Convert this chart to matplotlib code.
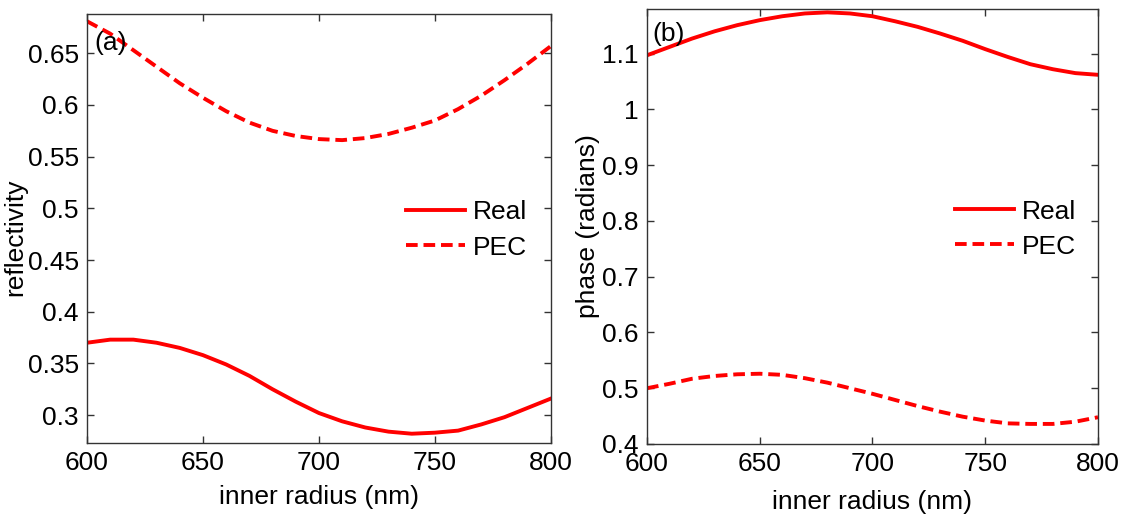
import matplotlib.pyplot as plt
from matplotlib.ticker import FuncFormatter

plt.rcParams['font.family'] = ['Liberation Sans', 'DejaVu Sans']

# inner radius (nm)
radius = [600, 610, 620, 630, 640, 650, 660, 670, 680, 690, 700,
          710, 720, 730, 740, 750, 760, 770, 780, 790, 800]

# (a) reflectivity
refl_real = [0.370, 0.373, 0.373, 0.370, 0.365, 0.358, 0.349, 0.338, 0.325, 0.313, 0.302,
             0.294, 0.288, 0.284, 0.282, 0.283, 0.285, 0.291, 0.298, 0.307, 0.316]
refl_pec = [0.681, 0.669, 0.653, 0.637, 0.621, 0.607, 0.594, 0.583, 0.575, 0.570, 0.567,
            0.566, 0.568, 0.572, 0.578, 0.585, 0.596, 0.609, 0.624, 0.640, 0.657]

# (b) phase (radians)
phase_real = [1.097, 1.112, 1.127, 1.140, 1.151, 1.160, 1.167, 1.172, 1.174, 1.172, 1.167,
              1.158, 1.148, 1.136, 1.123, 1.108, 1.094, 1.081, 1.072, 1.065, 1.062]
phase_pec = [0.500, 0.508, 0.517, 0.522, 0.525, 0.526, 0.524, 0.518, 0.510, 0.500, 0.490,
             0.479, 0.468, 0.458, 0.449, 0.442, 0.437, 0.436, 0.436, 0.440, 0.448]

fs = 19
red = '#ff0000'

fig = plt.figure(figsize=(11.25, 5.17), dpi=100)
ax1 = fig.add_axes([0.0773, 0.1431, 0.4124, 0.8298])
ax2 = fig.add_axes([0.5751, 0.1412, 0.4009, 0.8414])


def style(ax):
    for s in ax.spines.values():
        s.set_color('#333333')
        s.set_linewidth(1.0)
    ax.tick_params(direction='in', top=True, right=True, length=5, width=1,
                   labelsize=fs, pad=6, color='#333333')
    ax.set_xlim(600, 800)
    ax.set_xticks([600, 650, 700, 750, 800])
    ax.yaxis.set_major_formatter(FuncFormatter(lambda v, p: '%g' % round(v, 2)))


def add_legend(ax, x, y):
    ax.legend(loc='center left', bbox_to_anchor=(x, y), frameon=False,
              fontsize=fs, borderpad=0, borderaxespad=0, handlelength=2.25,
              handletextpad=0.28, labelspacing=0.42)


ax1.plot(radius, refl_real, color=red, lw=2.8, label='Real')
ax1.plot(radius, refl_pec, color=red, lw=2.8, ls=(0, (3, 1.5)), label='PEC')
style(ax1)
ax1.set_ylim(0.273, 0.688)
ax1.set_yticks([0.3, 0.35, 0.4, 0.45, 0.5, 0.55, 0.6, 0.65])
ax1.set_xlabel('inner radius (nm)', fontsize=fs)
ax1.set_ylabel('reflectivity', fontsize=fs)
ax1.xaxis.set_label_coords(0.5, -0.098)
ax1.yaxis.set_label_coords(-0.128, 0.48)
ax1.text(0.015, 0.96, '(a)', transform=ax1.transAxes, fontsize=fs, va='top', ha='left')
add_legend(ax1, 0.687, 0.4965)

ax2.plot(radius, phase_real, color=red, lw=2.8, label='Real')
ax2.plot(radius, phase_pec, color=red, lw=2.8, ls=(0, (3, 1.5)), label='PEC')
style(ax2)
ax2.set_ylim(0.4, 1.18)
ax2.set_yticks([0.4, 0.5, 0.6, 0.7, 0.8, 0.9, 1.0, 1.1])
ax2.set_xlabel('inner radius (nm)', fontsize=fs)
ax2.set_ylabel('phase (radians)', fontsize=fs)
ax2.xaxis.set_label_coords(0.5, -0.106)
ax2.yaxis.set_label_coords(-0.104, 0.5)
ax2.text(0.011, 0.97, '(b)', transform=ax2.transAxes, fontsize=fs, va='top', ha='left')
add_legend(ax2, 0.683, 0.494)

fig.savefig('out.png', dpi=100)
